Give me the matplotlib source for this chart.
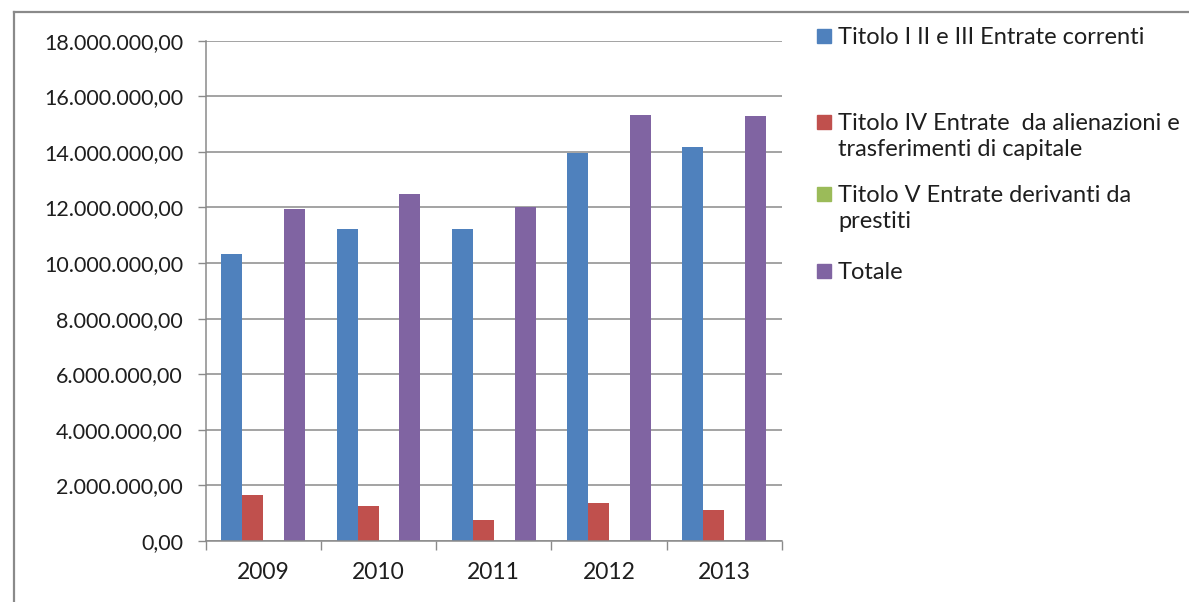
import matplotlib
matplotlib.use("Agg")
import matplotlib.pyplot as plt
import numpy as np
from matplotlib.ticker import FuncFormatter
from matplotlib.patches import Rectangle
from matplotlib.lines import Line2D

# data
years = ['2009', '2010', '2011', '2012', '2013']
correnti = [10340000, 11210000, 11210000, 13940000, 14160000]
alienazioni = [1640000, 1270000, 750000, 1370000, 1120000]
prestiti = [0, 0, 0, 0, 0]
totale = [11940000, 12480000, 12020000, 15340000, 15280000]

labels = ['Titolo I II e III Entrate correnti',
          'Titolo IV Entrate  da alienazioni e\ntrasferimenti di capitale',
          'Titolo V Entrate derivanti da\nprestiti',
          'Totale']
colors = ['#4F81BD', '#C0504D', '#9BBB59', '#8064A2']

plt.rcParams['font.family'] = ['Lato', 'DejaVu Sans']
TXT = '#1e1e1e'
GRID = '#8a8a8a'
W, H = 1189, 602


def it_fmt(v, pos):
    s = f"{v:,.2f}"
    return s.replace(',', '#').replace('.', ',').replace('#', '.')


fig = plt.figure(figsize=(W / 100, H / 100), dpi=100)
ax = fig.add_axes([205.7 / W, 61 / H, 576 / W, 500.4 / H])

x = np.arange(len(years))
w = 1 / 5.5
series = [correnti, alienazioni, prestiti, totale]
for k, vals in enumerate(series):
    ax.bar(x + (k - 1.5) * w, vals, w, color=colors[k], linewidth=0)

ax.set_xlim(-0.5, len(years) - 0.5)
ax.set_ylim(0, 18000000)
ax.set_yticks(np.arange(0, 18000001, 2000000))
ax.yaxis.set_major_formatter(FuncFormatter(it_fmt))
ax.yaxis.grid(True, color=GRID, lw=1.1)
ax.set_axisbelow(True)

ax.set_xticks(np.arange(-0.5, len(years), 1))
ax.set_xticklabels([])
ax.set_xticks(x, minor=True)
ax.set_xticklabels(years, minor=True)
ax.tick_params(axis='x', which='major', length=6.5, width=1, color=GRID)
ax.tick_params(axis='x', which='minor', length=0, pad=15, labelsize=16.5, labelcolor=TXT)
ax.tick_params(axis='y', length=5.8, width=1, color=GRID, pad=10.5, labelsize=15.5, labelcolor=TXT)

for s in ['top', 'right']:
    ax.spines[s].set_visible(False)
for s in ['left', 'bottom']:
    ax.spines[s].set_color(GRID)
    ax.spines[s].set_linewidth(1.1)

# outer frame (only top and left edges visible)
fig.add_artist(Line2D([14 / W, 14 / W], [0, 1 - 12 / H], color='#8a8a8a', lw=1.6))
fig.add_artist(Line2D([14 / W, 1], [1 - 12 / H, 1 - 12 / H], color='#8a8a8a', lw=1.6))

# legend drawn by hand: square + label lines
base_y = [44, 130, 202, 279]
line_gap = 25.5
sq = 14
for k, lab in enumerate(labels):
    by = base_y[k]
    fig.patches.append(Rectangle((817 / W, 1 - (by - 1) / H), sq / W, sq / H,
                                 transform=fig.transFigure, color=colors[k]))
    for j, line in enumerate(lab.split('\n')):
        fig.text(838 / W, 1 - (by + j * line_gap) / H, line, fontsize=17,
                 color=TXT, ha='left', va='baseline')

fig.savefig('out.png', dpi=100)
